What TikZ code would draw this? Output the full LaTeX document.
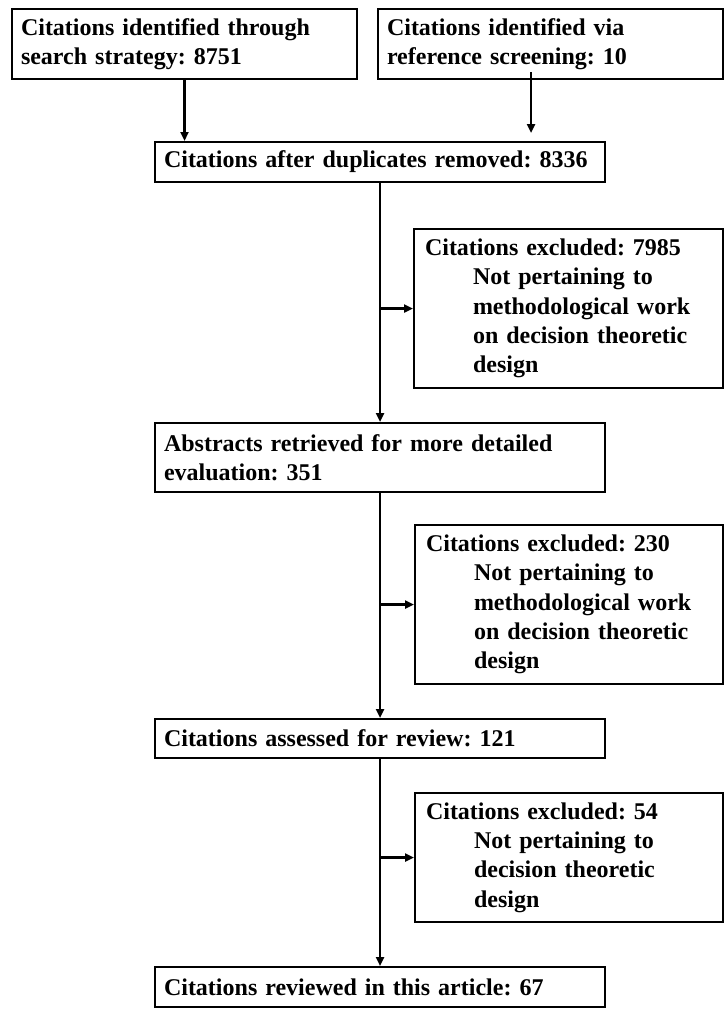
\documentclass[tikz,border=0pt]{standalone}
\usepackage{fontspec}
\setmainfont{Liberation Serif}
\usetikzlibrary{arrows.meta}
\frenchspacing
\begin{document}
\begin{tikzpicture}[x=1pt,y=-1pt]
\tikzset{
  box/.style={draw, line width=2pt, rectangle, anchor=north west, align=left,
    inner xsep=9pt, inner ysep=0pt,
    font=\fontsize{24}{29.3}\selectfont\bfseries},
  arr/.style={line width=2.6pt, -{Triangle[length=9pt,width=8pt]}}
}
\useasboundingbox (0,0) rectangle (725,1012);
\node[box, text width=327pt, minimum height=70pt] (A) at (11,8)
  {Citations identified through\\search strategy: 8751};
\node[box, text width=327pt, minimum height=70pt] (B) at (377,8)
  {Citations identified via\\reference screening: 10};
\node[box, text width=432pt, minimum height=40pt] (C) at (154,141)
  {Citations after duplicates removed: 8336};
\node[box, text width=291pt, minimum height=159pt] (X1) at (413,228)
  {\hspace*{2pt}Citations excluded: 7985\\\hspace*{50pt}Not pertaining to\\\hspace*{50pt}methodological work\\\hspace*{50pt}on decision theoretic\\\hspace*{50pt}design};
\node[box, text width=432pt, minimum height=69pt] (D) at (154,422)
  {Abstracts retrieved for more detailed\\evaluation: 351};
\node[box, text width=290pt, minimum height=159pt] (X2) at (414,524)
  {\hspace*{2pt}Citations excluded: 230\\\hspace*{50pt}Not pertaining to\\\hspace*{50pt}methodological work\\\hspace*{50pt}on decision theoretic\\\hspace*{50pt}design};
\node[box, text width=432pt, minimum height=39pt] (E) at (154,718)
  {Citations assessed for review: 121};
\node[box, text width=290pt, minimum height=129pt] (X3) at (414,792)
  {\hspace*{2pt}Citations excluded: 54\\\hspace*{50pt}Not pertaining to\\\hspace*{50pt}decision theoretic\\\hspace*{50pt}design};
\node[box, text width=432pt, minimum height=40pt] (F) at (154,966)
  {Citations reviewed in this article: 67};

\coordinate (bs) at (531,72);
\coordinate (be) at (531,133);

\draw[arr] (A.south) -- (A.south |- C.north);
\draw[arr] (bs) -- (be);
\draw[arr] (C.south) -- (D.north);
\draw[arr] (C.south |- X1.west) -- (X1.west);
\draw[arr] (D.south) -- (E.north);
\draw[arr] (D.south |- X2.west) -- (X2.west);
\draw[arr] (E.south) -- (F.north);
\draw[arr] (E.south |- X3.west) -- (X3.west);
\end{tikzpicture}
\end{document}
